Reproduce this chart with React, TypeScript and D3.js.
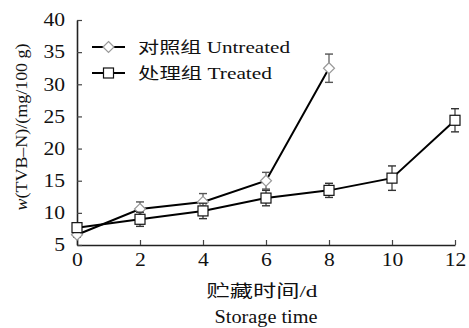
import React, { useEffect, useRef } from "react";
import * as d3 from "d3";

const days = [0, 2, 4, 6, 8, 10, 12];
const untreated = [6.6, 10.6, 11.7, 15.0, 32.5];
const untreatedErr = [0.4, 1.1, 1.3, 1.3, 2.2];
const treated = [7.7, 9.0, 10.3, 12.3, 13.5, 15.4, 24.4];
const treatedErr = [0.5, 1.1, 1.2, 1.2, 1.1, 1.9, 1.8];
const xTicks = [0, 2, 4, 6, 8, 10, 12];
const yTicks = [5, 10, 15, 20, 25, 30, 35, 40];
const legendLabels = ["对照组 Untreated", "处理组 Treated"];
const legendWidths = [152, 134];

const FONT = "'Liberation Serif', 'Times New Roman', 'Noto Sans CJK SC', serif";

const App = () => {
  const ref = useRef<SVGSVGElement | null>(null);

  useEffect(() => {
    const width = 469;
    const height = 328;
    const svg = d3.select(ref.current).attr("width", width).attr("height", height);
    svg.selectAll("*").remove();

    const x = d3.scaleLinear().domain([0, 12]).range([77, 455]);
    const y = d3.scaleLinear().domain([5, 40]).range([245, 20]);

    // axes, ticks point inward
    const xAxis = svg
      .append("g")
      .attr("transform", `translate(0,${y(5)})`)
      .call(
        d3.axisBottom(x).tickValues(xTicks).tickSize(-5).tickSizeOuter(0).tickPadding(8).tickFormat(d3.format("d"))
      );
    const yAxis = svg
      .append("g")
      .attr("transform", `translate(${x(0)},0)`)
      .call(
        d3.axisLeft(y).tickValues(yTicks).tickSize(-5).tickSizeOuter(0).tickPadding(12).tickFormat(d3.format("d"))
      );
    [xAxis, yAxis].forEach((a) => {
      a.selectAll("path").attr("stroke", "#222").attr("stroke-width", 1.6);
      a.selectAll("line").attr("stroke", "#444").attr("stroke-width", 1.2);
      a.selectAll("text")
        .attr("font-family", FONT)
        .attr("font-size", 18)
        .attr("fill", "#111")
        .attr("textLength", (d: any) => String(d).length * 10.8)
        .attr("lengthAdjust", "spacingAndGlyphs");
    });

    const series = [
      { vals: untreated, err: untreatedErr, shape: "diamond", stroke: "#999", errColor: "#555" },
      { vals: treated, err: treatedErr, shape: "square", stroke: "#111", errColor: "#333" },
    ];

    const line = d3
      .line<number>()
      .x((_, i) => x(days[i]))
      .y((d) => y(d));

    series.forEach((s) => {
      svg
        .append("path")
        .attr("d", line(s.vals))
        .attr("fill", "none")
        .attr("stroke", "#000")
        .attr("stroke-width", 2);
    });

    const drawMarker = (g: any, shape: string, cx: number, cy: number, stroke: string) => {
      if (shape === "diamond") {
        const r = 5.5;
        g.append("path")
          .attr("d", `M${cx},${cy - r}L${cx + r},${cy}L${cx},${cy + r}L${cx - r},${cy}Z`)
          .attr("fill", "#fff")
          .attr("stroke", stroke)
          .attr("stroke-width", 1.2);
      } else {
        const h = 5;
        g.append("rect")
          .attr("x", cx - h)
          .attr("y", cy - h)
          .attr("width", 2 * h)
          .attr("height", 2 * h)
          .attr("fill", "#fff")
          .attr("stroke", stroke)
          .attr("stroke-width", 1.2);
      }
    };

    series.forEach((s) => {
      const g = svg.append("g");
      s.vals.forEach((v, i) => {
        const cx = x(days[i]);
        const top = y(v + s.err[i]);
        const bot = y(v - s.err[i]);
        g.append("line").attr("x1", cx).attr("x2", cx).attr("y1", top).attr("y2", bot)
          .attr("stroke", s.errColor).attr("stroke-width", 1.2);
        [top, bot].forEach((yy) =>
          g.append("line").attr("x1", cx - 4).attr("x2", cx + 4).attr("y1", yy).attr("y2", yy)
            .attr("stroke", s.errColor).attr("stroke-width", 1.4)
        );
      });
      s.vals.forEach((v, i) => drawMarker(g, s.shape, x(days[i]), y(v), s.stroke));
    });

    // legend
    const legend = svg.append("g");
    series.forEach((s, i) => {
      const ly = 47 + i * 26;
      legend.append("line").attr("x1", 92).attr("x2", 125).attr("y1", ly).attr("y2", ly)
        .attr("stroke", "#000").attr("stroke-width", 2);
      drawMarker(legend, s.shape, 108.5, ly, s.stroke);
      legend.append("text").attr("x", 138).attr("y", ly).attr("dy", "0.35em")
        .attr("font-family", FONT).attr("font-size", 16).attr("fill", "#111")
        .attr("textLength", legendWidths[i]).attr("lengthAdjust", "spacingAndGlyphs")
        .text(legendLabels[i]);
    });

    // axis titles
    svg.append("text").attr("x", 262).attr("y", 291).attr("dy", "0.35em").attr("text-anchor", "middle")
      .attr("font-family", FONT).attr("font-size", 17).attr("fill", "#111")
      .attr("textLength", 111).attr("lengthAdjust", "spacingAndGlyphs")
      .text("贮藏时间/d");
    svg.append("text").attr("x", 266).attr("y", 317).attr("dy", "0.35em").attr("text-anchor", "middle")
      .attr("font-family", FONT).attr("font-size", 18).attr("fill", "#111")
      .attr("textLength", 103).attr("lengthAdjust", "spacingAndGlyphs")
      .text("Storage time");

    const yt = svg.append("text")
      .attr("transform", `translate(21,127) rotate(-90)`)
      .attr("dy", "0.35em")
      .attr("text-anchor", "middle")
      .attr("font-family", FONT).attr("font-size", 16).attr("fill", "#111")
      .attr("textLength", 167).attr("lengthAdjust", "spacingAndGlyphs");
    yt.append("tspan").attr("font-style", "italic").text("w");
    yt.append("tspan").text("(TVB–N)/(mg/100 g)");
  }, []);

  return (
    <svg ref={ref} style={{ position: "absolute", left: 0, top: 0, background: "#fff" }} />
  );
};

export default App;
